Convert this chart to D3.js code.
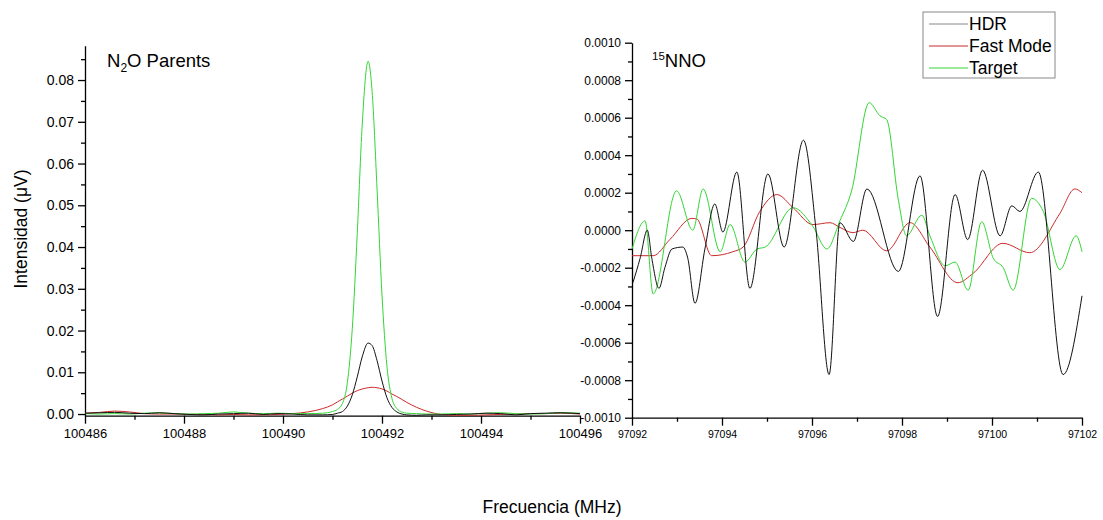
<!DOCTYPE html>
<html>
<head>
<meta charset="utf-8">
<script src="https://cdn.jsdelivr.net/npm/d3@7"></script>
<style>
  body { margin: 0; background: #fff; }
  svg { font-family: "Liberation Sans", Arial, sans-serif; }
  .axis path, .axis line { stroke: #000; stroke-width: 1.3; }
  .axis text { fill: #000; }
</style>
</head>
<body>
<div class="vizcontainer"></div>
<script>
// left panel: N2O parents
const freqLeft = [100486, 100486.3, 100486.6, 100486.9, 100487.2, 100487.5, 100487.8, 100488.1, 100488.4, 100488.7,
  100489, 100489.3, 100489.6, 100489.9, 100490.2, 100490.5, 100490.8, 100491, 100491.1, 100491.2,
  100491.3, 100491.4, 100491.5, 100491.6, 100491.72, 100491.8, 100491.9, 100492, 100492.1, 100492.2,
  100492.3, 100492.4, 100492.5, 100492.7, 100492.9, 100493.2, 100493.5, 100493.8, 100494.1, 100494.4,
  100494.7, 100495, 100495.3, 100495.6, 100496];
const hdrLeft = [0.0002, 0.0003, 0.0004, 0.0002, 0.0001, 0.0003, 0.0001, -0.0001, -0.0002, 0.0000,
  0.0001, 0.0002, -0.0001, 0.0001, 0.0000, -0.0002, -0.0002, -0.0001, 0.0002, 0.0006,
  0.0019, 0.0046, 0.0089, 0.0137, 0.0170, 0.0164, 0.0128, 0.0079, 0.0039, 0.0016,
  0.0005, 0.0000, -0.0002, -0.0003, -0.0002, -0.0002, -0.0001, 0.0000, 0.0002, 0.0001,
  -0.0002, 0.0001, 0.0002, 0.0003, 0.0001];
const fastLeft = [0.0002, 0.0004, 0.0007, 0.0005, 0.0001, 0.0000, 0.0000, -0.0001, -0.0001, -0.0002,
  -0.0001, -0.0002, -0.0002, -0.0001, 0.0001, 0.0005, 0.0013, 0.0022, 0.0029, 0.0036,
  0.0043, 0.0050, 0.0056, 0.0060, 0.0063, 0.0064, 0.0063, 0.0060, 0.0055, 0.0048,
  0.0042, 0.0035, 0.0028, 0.0016, 0.0007, -0.0001, -0.0003, -0.0003, -0.0002, -0.0001,
  0.0000, 0.0001, 0.0001, 0.0002, 0.0000];
const targetLeft = [0.0001, 0.0000, 0.0001, 0.0000, 0.0002, 0.0003, 0.0001, 0.0000, 0.0001, 0.0002,
  0.0005, 0.0002, 0.0001, 0.0002, 0.0001, 0.0001, 0.0002, 0.0006, 0.0011, 0.0025,
  0.0075, 0.0205, 0.0432, 0.0692, 0.0845, 0.0773, 0.0539, 0.0285, 0.0114, 0.0038,
  0.0013, 0.0005, 0.0002, 0.0001, 0.0000, 0.0000, 0.0001, 0.0000, 0.0002, 0.0003,
  0.0001, 0.0000, 0.0001, 0.0003, 0.0002];

// right panel: 15NNO
const hdrFreqRight = [97092.02, 97092.18, 97092.34, 97092.44, 97092.6, 97092.73, 97092.89, 97093.13, 97093.24, 97093.4,
  97093.62, 97093.84, 97094.02, 97094.33, 97094.62, 97095.02, 97095.38, 97095.81, 97096.09, 97096.38,
  97096.62, 97096.92, 97097.22, 97097.92, 97098.4, 97098.79, 97099.18, 97099.46, 97099.79, 97100.18,
  97100.44, 97100.62, 97101.03, 97101.58, 97102];
const hdrRight = [-0.00028, -0.00015, 0.0000, -0.00015, -0.00031, -0.0002, -0.0001, -0.00009, -0.00015, -0.00039,
  -0.0001, 0.00014, -0.00001, 0.00031, -0.00031, 0.0003, -0.00009, 0.00048, 0.0000, -0.00077,
  0.00004, -0.00006, 0.00022, -0.00022, 0.00029, -0.00046, 0.00019, -0.00005, 0.00032, -0.00003,
  0.00013, 0.0001, 0.00031, -0.00077, -0.00035];

const fastFreqRight = [97092, 97092.47, 97092.84, 97093.33, 97093.44, 97093.77, 97094.24, 97094.47, 97094.84, 97095.22,
  97095.58, 97096.02, 97096.4, 97096.62, 97096.91, 97097.13, 97097.66, 97098.18, 97098.62, 97099.24,
  97099.58, 97100.24, 97100.84, 97101.51, 97101.84, 97102];
const fastRight = [-0.000136, -0.000136, -0.00005, 0.000063, 0.00006, -0.000136, -0.000115, -0.00009, 0.0001, 0.00019,
  0.00012, 0.00003, 0.00004, 0.000015, -0.000013, 0.0, -0.00011, 0.00004, -0.00009, -0.00028,
  -0.00023, -0.00007, -0.00012, 0.00009, 0.00022, 0.0002];

const targetFreqRight = [97092, 97092.29, 97092.47, 97092.99, 97093.35, 97093.58, 97093.96, 97094.18, 97094.51, 97094.78,
  97094.96, 97095.58, 97096.02, 97096.33, 97096.62, 97096.88, 97097.27, 97097.51, 97097.66, 97097.92,
  97098.1, 97098.44, 97098.62, 97098.96, 97099.18, 97099.47, 97099.77, 97100.03, 97100.25, 97100.47,
  97100.88, 97101.14, 97101.51, 97101.87, 97102];
const targetRight = [-0.0001, 0.00005, -0.00034, 0.00021, 0.0, 0.00022, -0.000115, 0.00003, -0.00017, -0.0001,
  -0.00009, 0.00012, 0.00002, -0.0001, 0.00005, 0.00021, 0.00068, 0.00061, 0.00059, 0.00016,
  -0.00003, 0.00008, -0.00003, -0.00019, -0.00017, -0.00032, 0.000045, -0.00015, -0.0002, -0.00032,
  0.00017, 0.0001, -0.00021, -0.00003, -0.000115];

const seriesNames = ["HDR", "Fast Mode", "Target"];
const seriesColors = ["#111", "#cc2a2a", "#33d633"];

const leftXTicks = [100486, 100488, 100490, 100492, 100494, 100496];
const leftXMinor = [100487, 100489, 100491, 100493, 100495];
const leftYTicks = [0, 0.01, 0.02, 0.03, 0.04, 0.05, 0.06, 0.07, 0.08];
const leftYMinor = [0.005, 0.015, 0.025, 0.035, 0.045, 0.055, 0.065, 0.075, 0.085];
const rightXTicks = [97092, 97094, 97096, 97098, 97100, 97102];
const rightXMinor = [97093, 97095, 97097, 97099, 97101];
const rightYTicks = [-0.001, -0.0008, -0.0006, -0.0004, -0.0002, 0, 0.0002, 0.0004, 0.0006, 0.0008, 0.001];
const rightYMinor = [-0.0009, -0.0007, -0.0005, -0.0003, -0.0001, 0.0001, 0.0003, 0.0005, 0.0007, 0.0009];

const width = 1103, height = 520;

var svg = d3.select(".vizcontainer")
  .append("svg")
  .attr("width", width)
  .attr("height", height);

// scales
var xL = d3.scaleLinear().domain([100486, 100496]).range([85, 580]);
var yL = d3.scaleLinear().domain([-0.0004, 0.0882]).range([415.7, 45.8]);
var xR = d3.scaleLinear().domain([97092, 97102]).range([632, 1082]);
var yR = d3.scaleLinear().domain([-0.001, 0.001]).range([417.7, 42.7]);

function drawAxes(x, y, xt, xm, yt, ym, xfmt, yfmt, xsize, ysize) {
  var x0 = x.range()[0], y0 = y.range()[0];

  svg.append("g").attr("class", "axis")
    .attr("transform", "translate(0," + y0 + ")")
    .call(d3.axisBottom(x).tickValues(xt).tickFormat(xfmt).tickSize(8).tickSizeOuter(0).tickPadding(5))
    .call(g => g.selectAll("text").style("font-size", xsize + "px"));
  svg.append("g").attr("class", "axis")
    .attr("transform", "translate(0," + y0 + ")")
    .call(d3.axisBottom(x).tickValues(xm).tickFormat("").tickSize(4))
    .call(g => g.select(".domain").remove());

  svg.append("g").attr("class", "axis")
    .attr("transform", "translate(" + x0 + ",0)")
    .call(d3.axisLeft(y).tickValues(yt).tickFormat(yfmt).tickSize(7).tickSizeOuter(0).tickPadding(4))
    .call(g => g.selectAll("text").style("font-size", ysize + "px"));
  svg.append("g").attr("class", "axis")
    .attr("transform", "translate(" + x0 + ",0)")
    .call(d3.axisLeft(y).tickValues(ym).tickFormat("").tickSize(4))
    .call(g => g.select(".domain").remove());
}

drawAxes(xL, yL, leftXTicks, leftXMinor, leftYTicks, leftYMinor, d3.format("d"), d3.format(".2f"), 13, 14);
drawAxes(xR, yR, rightXTicks, rightXMinor, rightYTicks, rightYMinor, d3.format("d"),
  d => (d < 0 ? "-" : "") + d3.format(".4f")(Math.abs(d)), 10.5, 12);

// lines
function drawLine(x, y, xs, ys, color) {
  var line = d3.line()
    .x((d, i) => x(xs[i]))
    .y(d => y(d))
    .curve(d3.curveMonotoneX);
  svg.append("path")
    .datum(ys)
    .attr("fill", "none")
    .attr("stroke", color)
    .attr("stroke-width", 1)
    .attr("d", line);
}

drawLine(xL, yL, freqLeft, fastLeft, seriesColors[1]);
drawLine(xL, yL, freqLeft, targetLeft, seriesColors[2]);
drawLine(xL, yL, freqLeft, hdrLeft, seriesColors[0]);

drawLine(xR, yR, fastFreqRight, fastRight, seriesColors[1]);
drawLine(xR, yR, targetFreqRight, targetRight, seriesColors[2]);
drawLine(xR, yR, hdrFreqRight, hdrRight, seriesColors[0]);

// panel titles
var t1 = svg.append("text").attr("x", 107).attr("y", 67).style("font-size", "18.5px");
t1.append("tspan").text("N");
t1.append("tspan").attr("dy", 5).style("font-size", "12px").text("2");
t1.append("tspan").attr("dy", -5).text("O Parents");

var t2 = svg.append("text").attr("x", 652).attr("y", 67).style("font-size", "18.5px");
t2.append("tspan").attr("dy", -7).style("font-size", "11.5px").text("15");
t2.append("tspan").attr("dy", 7).text("NNO");

// axis titles
svg.append("text")
  .attr("text-anchor", "middle")
  .attr("transform", "translate(27,229) rotate(-90)")
  .style("font-size", "17.5px")
  .text("Intensidad (\u03BCV)");

svg.append("text")
  .attr("text-anchor", "middle")
  .attr("x", 552)
  .attr("y", 513)
  .style("font-size", "17.5px")
  .text("Frecuencia (MHz)");

// legend
var legend = svg.append("g").attr("id", "legend");
legend.append("rect")
  .attr("x", 923).attr("y", 12)
  .attr("width", 132).attr("height", 66)
  .attr("fill", "#fff")
  .attr("stroke", "#888")
  .attr("stroke-width", 1);

var legendY = d3.scalePoint().domain(seriesNames).range([24, 68]);

legend.selectAll("line")
  .data(seriesNames)
  .enter()
  .append("line")
  .attr("x1", 929).attr("x2", 968)
  .attr("y1", d => legendY(d)).attr("y2", d => legendY(d))
  .attr("stroke", (d, i) => i === 0 ? "#888" : seriesColors[i])
  .attr("stroke-width", 1);

legend.selectAll("text")
  .data(seriesNames)
  .enter()
  .append("text")
  .attr("x", 969)
  .attr("y", d => legendY(d) + 6)
  .style("font-size", "17.5px")
  .text(d => d);
</script>
</body>
</html>
